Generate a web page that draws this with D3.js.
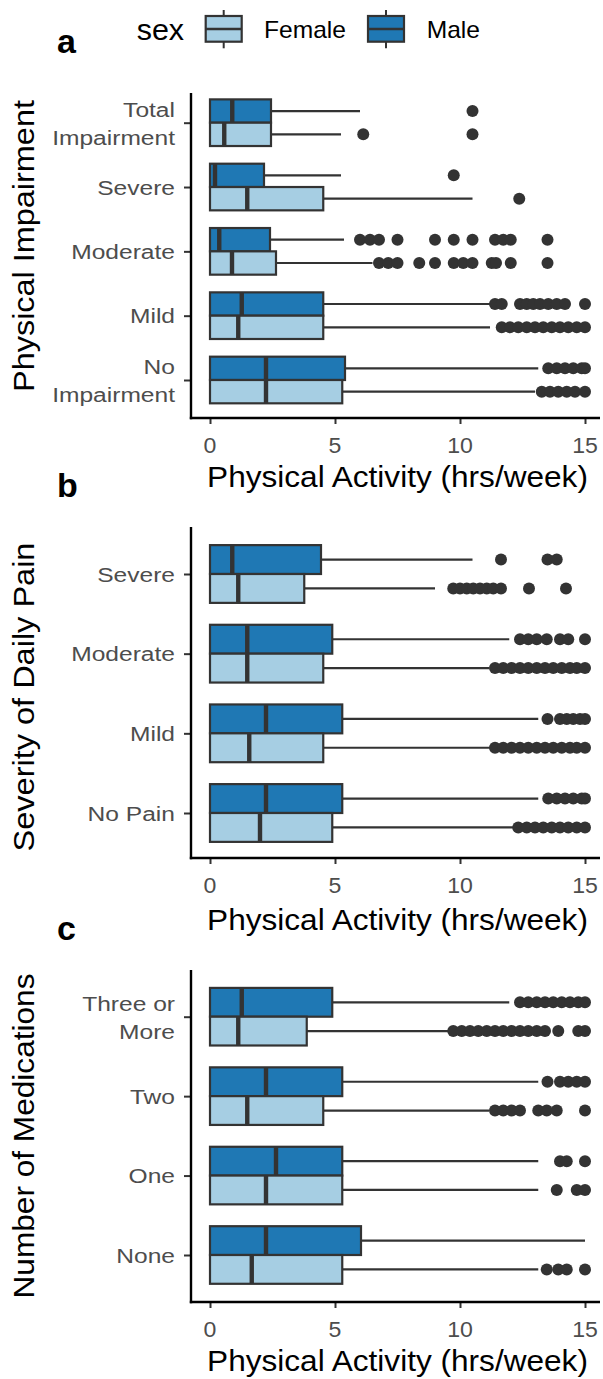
<!DOCTYPE html>
<html><head><meta charset="utf-8">
<script src="https://cdn.jsdelivr.net/npm/d3@7"></script>
<style>
html,body{margin:0;padding:0;background:#fff;}
svg{display:block;}
text{font-family:"Liberation Sans",Arial,Helvetica,sans-serif;}
</style></head>
<body>
<svg id="chart" width="603" height="1379"></svg>
<script>
// ---------------- DATA ----------------
const sexes = ["Female", "Male"];
const xTicks = [0, 5, 10, 15];
const xTitle = "Physical Activity (hrs/week)";

// Panel a: Physical Impairment
const impairCats = ["Total\nImpairment", "Severe", "Moderate", "Mild", "No\nImpairment"];
const impairMaleQ1 = [0, 0, 0, 0, 0];
const impairMaleMed = [0.89, 0.2, 0.37, 1.27, 2.24];
const impairMaleQ3 = [2.44, 2.16, 2.4, 4.53, 5.4];
const impairMaleHi = [6.0, 5.24, 5.36, 11.2, 13.13];
const impairMaleOut = [
  [10.5],
  [9.75],
  [6.0, 6.4, 6.76, 7.5, 9.0, 9.75, 10.5, 11.4, 11.73, 12.03, 13.5],
  [11.4, 11.67, 12.4, 12.67, 12.93, 13.2, 13.53, 13.87, 14.2, 15],
  [13.53, 13.87, 14.2, 14.53, 14.87, 15]
];
const impairFemaleQ1 = [0, 0, 0, 0, 0];
const impairFemaleMed = [0.57, 1.49, 0.88, 1.13, 2.24];
const impairFemaleQ3 = [2.44, 4.53, 2.64, 4.53, 5.29];
const impairFemaleHi = [5.24, 10.5, 6.5, 11.2, 13.0];
const impairFemaleOut = [
  [6.13, 10.5],
  [12.37],
  [6.76, 7.13, 7.5, 8.37, 9.0, 9.75, 10.13, 10.5, 11.27, 11.44, 12.03, 13.5],
  [11.67, 12.0, 12.33, 12.67, 13.0, 13.33, 13.67, 14.0, 14.33, 14.67, 15],
  [13.27, 13.6, 13.93, 14.27, 14.6, 15]
];

// Panel b: Severity of Daily Pain
const painCats = ["Severe", "Moderate", "Mild", "No Pain"];
const painMaleQ1 = [0, 0, 0, 0];
const painMaleMed = [0.89, 1.49, 2.24, 2.24];
const painMaleQ3 = [4.44, 4.89, 5.29, 5.29];
const painMaleHi = [10.5, 11.97, 13.13, 13.13];
const painMaleOut = [
  [11.64, 13.5, 13.87],
  [12.4, 12.73, 13.07, 13.47, 14.0, 14.33, 15],
  [13.5, 14.0, 14.27, 14.53, 14.8, 15],
  [13.53, 13.87, 14.2, 14.53, 14.87, 15]
];
const painFemaleQ1 = [0, 0, 0, 0];
const painFemaleMed = [1.13, 1.49, 1.57, 2.0];
const painFemaleQ3 = [3.77, 4.53, 4.53, 4.89];
const painFemaleHi = [9.0, 11.17, 11.2, 12.13];
const painFemaleOut = [
  [9.73, 10.0, 10.27, 10.53, 10.8, 11.07, 11.33, 11.64, 12.76, 14.24],
  [11.4, 11.73, 12.07, 12.4, 12.73, 13.07, 13.4, 13.73, 14.07, 14.4, 14.67, 15],
  [11.4, 11.73, 12.07, 12.4, 12.73, 13.07, 13.4, 13.73, 14.07, 14.4, 14.67, 15],
  [12.33, 12.67, 13.0, 13.33, 13.67, 14.0, 14.33, 14.67, 15]
];

// Panel c: Number of Medications
const medCats = ["Three or\nMore", "Two", "One", "None"];
const medMaleQ1 = [0, 0, 0, 0];
const medMaleMed = [1.27, 2.24, 2.64, 2.24];
const medMaleQ3 = [4.89, 5.29, 5.29, 6.04];
const medMaleHi = [11.97, 13.13, 13.13, 15.0];
const medMaleOut = [
  [12.4, 12.73, 13.07, 13.4, 13.73, 14.07, 14.4, 14.73, 15],
  [13.5, 14.0, 14.33, 14.67, 15],
  [14.0, 14.27, 15],
  []
];
const medFemaleQ1 = [0, 0, 0, 0];
const medFemaleMed = [1.13, 1.49, 2.24, 1.67];
const medFemaleQ3 = [3.87, 4.53, 5.29, 5.29];
const medFemaleHi = [9.53, 11.17, 13.13, 13.13];
const medFemaleOut = [
  [9.73, 10.07, 10.4, 10.73, 11.07, 11.4, 11.73, 12.07, 12.4, 12.73, 13.07, 13.4, 13.93, 14.73, 15],
  [11.4, 11.73, 12.07, 12.4, 13.13, 13.47, 13.87, 15],
  [13.87, 14.67, 15],
  [13.47, 13.93, 14.27, 15]
];

// ---------------- STYLE / LAYOUT ----------------
const colors = {Female: "#A6CEE3", Male: "#1F78B4"};
const ink = "#333333";
const tickGray = "#4D4D4D";

function rows(cats, q1, med, q3, hi, out) {
  return cats.map((c, i) => ({cat: c, q1: q1[i], med: med[i], q3: q3[i], hi: hi[i], out: out[i]}));
}

const panels = [
  {label: "a", title: "Physical Impairment", cats: impairCats,
   male: rows(impairCats, impairMaleQ1, impairMaleMed, impairMaleQ3, impairMaleHi, impairMaleOut),
   female: rows(impairCats, impairFemaleQ1, impairFemaleMed, impairFemaleQ3, impairFemaleHi, impairFemaleOut),
   range: [122.7, 380], top: 93, bottom: 418, titleY: 487, labelY: 53, yTitleC: 246, yTitleLen: 292},
  {label: "b", title: "Severity of Daily Pain", cats: painCats,
   male: rows(painCats, painMaleQ1, painMaleMed, painMaleQ3, painMaleHi, painMaleOut),
   female: rows(painCats, painFemaleQ1, painFemaleMed, painFemaleQ3, painFemaleHi, painFemaleOut),
   range: [574, 813], top: 527, bottom: 858, titleY: 930, labelY: 497, yTitleC: 697, yTitleLen: 309},
  {label: "c", title: "Number of Medications", cats: medCats,
   male: rows(medCats, medMaleQ1, medMaleMed, medMaleQ3, medMaleHi, medMaleOut),
   female: rows(medCats, medFemaleQ1, medFemaleMed, medFemaleQ3, medFemaleHi, medFemaleOut),
   range: [1016.7, 1255], top: 970, bottom: 1302, titleY: 1371, labelY: 940, yTitleC: 1136, yTitleLen: 325}
];

const svg = d3.select("#chart");
const x = d3.scaleLinear().domain([0, 15]).range([210, 585]);
const axisX = 191, axisRight = 600;

// stretched text helper (horizontal stretch along text direction)
function stext(parent, px, py, str, o) {
  const t = parent.append("text")
    .attr("transform", `translate(${px},${py})${o.rotate ? " rotate(-90)" : ""} scale(${o.stretch || 1},1)`)
    .attr("text-anchor", o.anchor || "start")
    .attr("font-size", o.size)
    .attr("font-weight", o.weight || "normal")
    .attr("fill", o.fill || "#000")
    .text(str);
  return t;
}

panels.forEach(p => {
  const g = svg.append("g");
  const y = d3.scalePoint().domain(p.cats).range(p.range);
  const step = (p.range[1] - p.range[0]) / (p.cats.length - 1);
  const bh = step * 0.725 / 2;

  // x axis
  const gx = g.append("g").attr("transform", `translate(0,${p.bottom})`)
    .call(d3.axisBottom(x).tickValues(xTicks).tickSize(6).tickFormat(""));
  gx.select(".domain").remove();
  gx.selectAll(".tick line").attr("stroke", ink).attr("stroke-width", 2);
  xTicks.forEach(v => stext(g, x(v), p.bottom + 35, String(v), {size: 22, anchor: "middle", fill: tickGray, stretch: 1.05}));
  g.append("line").attr("x1", axisX - 1.2).attr("x2", axisRight).attr("y1", p.bottom).attr("y2", p.bottom)
    .attr("stroke", "#000").attr("stroke-width", 2.4);

  // y axis
  const gy = g.append("g").attr("transform", `translate(${axisX},0)`)
    .call(d3.axisLeft(y).tickSize(7).tickFormat(""));
  gy.select(".domain").remove();
  gy.selectAll(".tick line").attr("stroke", ink).attr("stroke-width", 2);
  g.append("line").attr("x1", axisX).attr("x2", axisX).attr("y1", p.top).attr("y2", p.bottom + 1.2)
    .attr("stroke", "#000").attr("stroke-width", 2.4);
  p.cats.forEach(c => {
    const lines = c.split("\n");
    const yc = y(c);
    if (lines.length === 1) {
      stext(g, 175, yc + 7.7, lines[0], {size: 21, anchor: "end", fill: tickGray, stretch: 1.17});
    } else {
      stext(g, 175, yc - 6.2, lines[0], {size: 21, anchor: "end", fill: tickGray, stretch: 1.17});
      stext(g, 175, yc + 22.2, lines[1], {size: 21, anchor: "end", fill: tickGray, stretch: 1.17});
    }
  });

  // titles
  const xt = stext(g, 397.5, p.titleY, xTitle, {size: 29, anchor: "middle", stretch: 1});
  const xw = xt.node().getComputedTextLength();
  xt.attr("transform", `translate(397.5,${p.titleY}) scale(${381 / xw},1)`);
  const yt = stext(g, 34, p.yTitleC, p.title, {size: 29, anchor: "middle", rotate: true});
  const yw = yt.node().getComputedTextLength();
  yt.attr("transform", `translate(34,${p.yTitleC}) rotate(-90) scale(${p.yTitleLen / yw},1)`);
  stext(g, 57, p.labelY, p.label, {size: 34, weight: "bold"});

  // boxes
  const groups = [{sex: "Male", data: p.male, off: -bh / 2}, {sex: "Female", data: p.female, off: bh / 2}];
  groups.forEach(s => {
    const bg = g.append("g");
    s.data.forEach(d => {
      const cy = y(d.cat) + s.off;
      // whiskers
      bg.append("line").attr("x1", x(d.q3)).attr("x2", x(d.hi)).attr("y1", cy).attr("y2", cy)
        .attr("stroke", ink).attr("stroke-width", 2.2);
      bg.append("line").attr("x1", x(0)).attr("x2", x(d.q1)).attr("y1", cy).attr("y2", cy)
        .attr("stroke", ink).attr("stroke-width", 2.2);
      // box
      bg.append("rect").attr("x", x(d.q1)).attr("y", cy - bh / 2)
        .attr("width", x(d.q3) - x(d.q1)).attr("height", bh)
        .attr("fill", colors[s.sex]).attr("stroke", ink).attr("stroke-width", 2.2);
      // median
      bg.append("line").attr("x1", x(d.med)).attr("x2", x(d.med))
        .attr("y1", cy - bh / 2).attr("y2", cy + bh / 2)
        .attr("stroke", ink).attr("stroke-width", 4.4);
      // outliers
      bg.selectAll(null).data(d.out).enter().append("circle")
        .attr("cx", v => x(v)).attr("cy", cy).attr("r", 6).attr("fill", ink);
    });
  });
});

// ---------------- LEGEND ----------------
const lg = svg.append("g");
stext(lg, 136.7, 40, "sex", {size: 29, stretch: 1.05});
const keyPos = {Female: 205.7, Male: 368};
const labPos = {Female: 264, Male: 426.7};
sexes.forEach(s => {
  const kx = keyPos[s], kw = 36, cx = kx + kw / 2;
  lg.append("line").attr("x1", cx).attr("x2", cx).attr("y1", 10).attr("y2", 48.3)
    .attr("stroke", ink).attr("stroke-width", 2);
  lg.append("rect").attr("x", kx).attr("y", 16).attr("width", kw).attr("height", 25.7)
    .attr("fill", colors[s]).attr("stroke", ink).attr("stroke-width", 2.2);
  lg.append("line").attr("x1", kx).attr("x2", kx + kw).attr("y1", 29).attr("y2", 29)
    .attr("stroke", ink).attr("stroke-width", 2.6);
  stext(lg, labPos[s], 38.3, s, {size: 23, stretch: 1.07});
});
</script>
</body></html>
